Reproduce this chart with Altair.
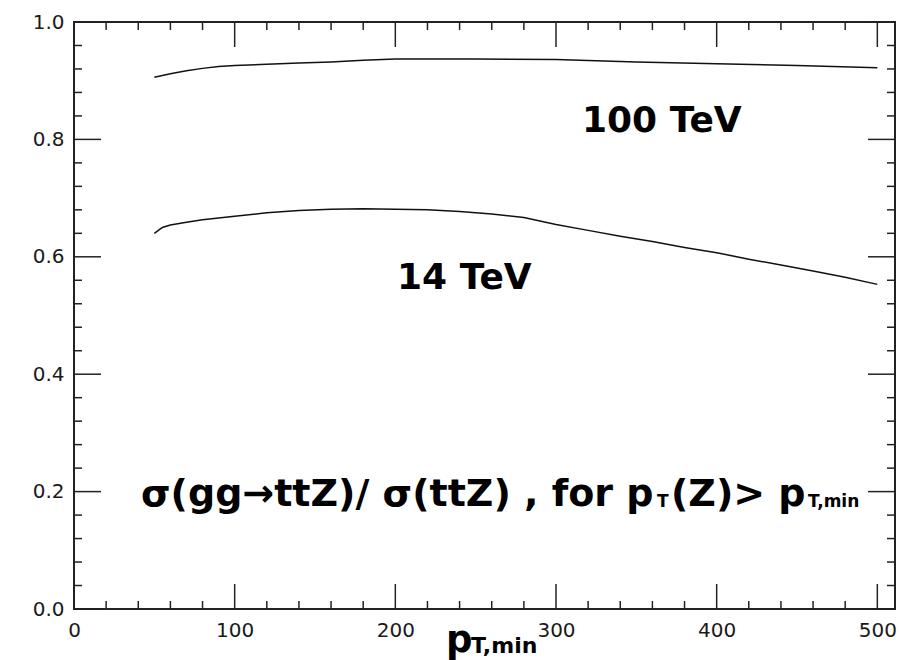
import altair as alt
import pandas as pd

# Ratio sigma(gg -> ttZ) / sigma(ttZ) versus the pT(Z) threshold
pt_100 = [50, 60, 70, 80, 90, 100, 120, 140, 160, 180, 200, 250, 300, 350, 400, 450, 500]
ratio_100 = [0.906, 0.912, 0.917, 0.921, 0.924, 0.926, 0.928, 0.930, 0.932, 0.935,
             0.937, 0.937, 0.936, 0.932, 0.929, 0.926, 0.922]

pt_14 = [50, 55, 60, 70, 80, 90, 100, 120, 140, 160, 180, 200, 220, 240, 260, 280,
         300, 320, 340, 360, 380, 400, 420, 440, 460, 480, 500]
ratio_14 = [0.640, 0.650, 0.654, 0.659, 0.663, 0.666, 0.669, 0.675, 0.679, 0.681,
            0.682, 0.681, 0.680, 0.677, 0.673, 0.667, 0.655, 0.645, 0.635, 0.626,
            0.616, 0.607, 0.596, 0.586, 0.576, 0.565, 0.553]

# Axis tick positions
x_major = [0, 100, 200, 300, 400, 500]
x_minor = [20, 40, 60, 80, 120, 140, 160, 180, 220, 240, 260, 280,
           320, 340, 360, 380, 420, 440, 460, 480]
y_major = [0.0, 0.2, 0.4, 0.6, 0.8, 1.0]
y_minor = [0.04, 0.08, 0.12, 0.16, 0.24, 0.28, 0.32, 0.36, 0.44, 0.48, 0.52, 0.56,
           0.64, 0.68, 0.72, 0.76, 0.84, 0.88, 0.92, 0.96]

W, H = 821, 587
LEFT, TOP = 74, 22
XMAX = 511

TICK_FONT = "DejaVu Sans"
TEXT_FONT = "DejaVu Sans"

xs = alt.Scale(domain=[0, XMAX], nice=False, zero=False)
ys = alt.Scale(domain=[0, 1], nice=False, zero=False)

x_axis = alt.Axis(values=x_major, format="d", ticks=False, domain=False, grid=False,
                  labelFont=TICK_FONT, labelFontSize=20, labelColor="#1a1a1a",
                  labelPadding=11, labelFlush=False, title=None)
y_axis = alt.Axis(values=y_major, format=".1f", ticks=False, domain=False, grid=False,
                  labelFont=TICK_FONT, labelFontSize=20, labelColor="#1a1a1a",
                  labelPadding=10, labelFlush=False, title=None)

curves = pd.DataFrame({
    "pt": pt_100 + pt_14,
    "ratio": ratio_100 + ratio_14,
    "energy": ["100 TeV"] * len(pt_100) + ["14 TeV"] * len(pt_14),
})

lines = alt.Chart(curves).mark_line(color="#111111", strokeWidth=1.5).encode(
    x=alt.X("pt:Q", scale=xs, axis=x_axis),
    y=alt.Y("ratio:Q", scale=ys, axis=y_axis),
    detail="energy:N",
)


def xticks(values, length, top):
    df = pd.DataFrame({"pt": values})
    if top:
        y0, y1 = 0, length
    else:
        y0, y1 = H, H - length
    return alt.Chart(df).mark_rule(color="#222222", strokeWidth=1.5).encode(
        x=alt.X("pt:Q", scale=xs, axis=x_axis),
        y=alt.value(y0), y2=alt.value(y1),
    )


def yticks(values, length, right):
    df = pd.DataFrame({"ratio": values})
    if right:
        x0, x1 = W, W - length
    else:
        x0, x1 = 0, length
    return alt.Chart(df).mark_rule(color="#222222", strokeWidth=1.5).encode(
        y=alt.Y("ratio:Q", scale=ys, axis=y_axis),
        x=alt.value(x0), x2=alt.value(x1),
    )


ticks = [
    xticks(x_major, 25, False), xticks(x_minor, 8, False),
    xticks(x_major, 25, True), xticks(x_minor, 8, True),
    yticks(y_major, 27, False), yticks(y_minor, 8, False),
    yticks(y_major, 27, True), yticks(y_minor, 8, True),
]


def label(text, px, py, size):
    return alt.Chart(pd.DataFrame({"t": [text]})).mark_text(
        align="left", baseline="alphabetic", font=TEXT_FONT, fontSize=size,
        fontWeight="bold", color="black",
    ).encode(x=alt.value(px - LEFT), y=alt.value(py - TOP), text="t:N")


texts = [
    label("100 TeV", 582, 132, 36),
    label("14 TeV", 397, 289, 36),
    label("σ(gg→ttZ)/ σ(ttZ) , for p", 141, 506, 38),
    label("T", 657, 507, 17),
    label("(Z)> p", 671, 506, 38),
    label("T,min", 808, 507, 17),
    # x-axis title
    label("p", 446, 652, 37),
    label("T,min", 471, 653, 22),
]

chart = alt.layer(lines, *ticks, *texts).properties(
    width=W, height=H,
    padding={"left": LEFT, "top": TOP, "right": 899 - LEFT - W, "bottom": 660 - TOP - H},
    autosize=alt.AutoSizeParams(type="none"),
).configure_view(stroke="#222222", strokeWidth=2)

chart.save("out.html", embed_options={"renderer": "svg", "actions": False})
